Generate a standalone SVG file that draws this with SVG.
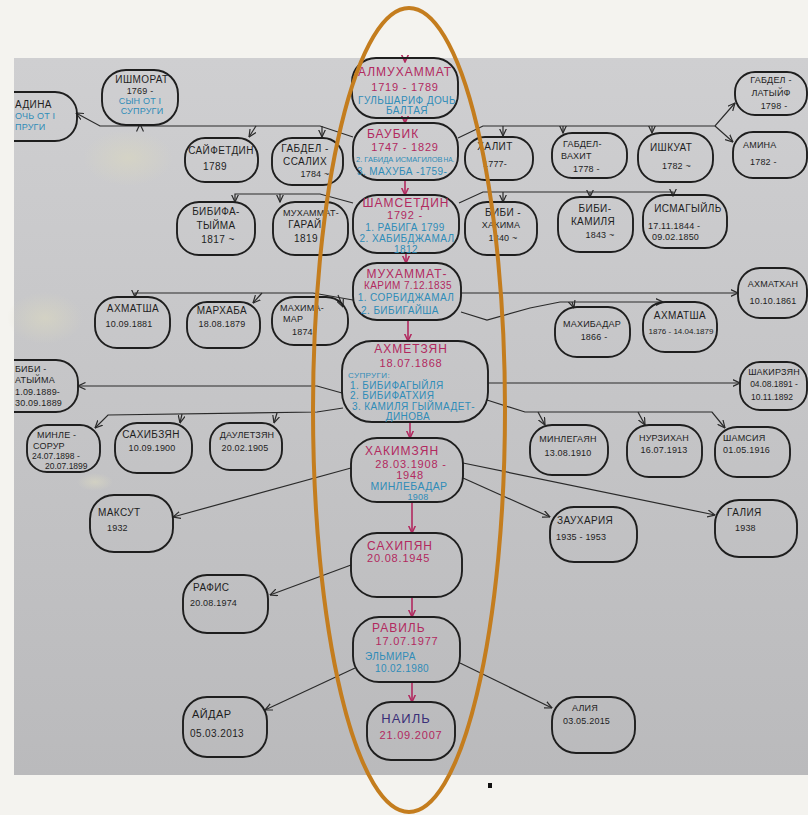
<svg xmlns="http://www.w3.org/2000/svg" width="808" height="815" viewBox="0 0 808 815">
<defs>
<style>
.n{fill:none;stroke:#1e1e1e;stroke-width:1.9}
text{font-family:"Liberation Sans","DejaVu Sans",sans-serif;font-size:10px;letter-spacing:0.4px}
.t{fill:#1e1e1e}
.m{fill:#b2295f}
.b{fill:#2f8cb8}
.h{font-size:12px;letter-spacing:1px}
.d{font-size:11px;letter-spacing:0.8px}
.s{font-size:9px;letter-spacing:0.2px}
.mid{text-anchor:middle}
.c{fill:none;stroke:#2a2a2a;stroke-width:1.2}
.r{fill:none;stroke:#b2295f;stroke-width:1.6}
</style>
<linearGradient id="paper" x1="0" y1="0" x2="0" y2="1">
<stop offset="0" stop-color="#cfcfd1"/>
<stop offset="1" stop-color="#bababc"/>
</linearGradient>
<radialGradient id="blot">
<stop offset="0" stop-color="#d8d6c2" stop-opacity="0.7"/>
<stop offset="1" stop-color="#d8d6c2" stop-opacity="0"/>
</radialGradient>
<clipPath id="photo"><rect x="14" y="58" width="794" height="717"/></clipPath>
<marker id="a" viewBox="0 0 8 8" refX="7.5" refY="4" markerWidth="8" markerHeight="8" markerUnits="userSpaceOnUse" orient="auto">
<path d="M0,0.5 L7.5,4 L0,7.5" fill="none" stroke="#2a2a2a" stroke-width="1.2"/>
</marker>
<marker id="ar" viewBox="0 0 8 8" refX="7.5" refY="4" markerWidth="8" markerHeight="8" markerUnits="userSpaceOnUse" orient="auto">
<path d="M0,0.5 L7.5,4 L0,7.5" fill="none" stroke="#b2295f" stroke-width="1.5"/>
</marker>
</defs>
<rect width="808" height="815" fill="#f4f3ef"/>
<rect x="14" y="58" width="794" height="717" fill="url(#paper)"/>
<ellipse cx="128" cy="158" rx="45" ry="28" fill="url(#blot)"/>
<ellipse cx="45" cy="318" rx="38" ry="26" fill="url(#blot)"/>
<ellipse cx="95" cy="482" rx="18" ry="9" fill="url(#blot)"/>

<g id="connectors">
<path class="r" d="M405,58 L405,62" marker-end="url(#ar)"/>
<path class="r" d="M405,118 L405,123" marker-end="url(#ar)"/>
<path class="r" d="M405,180 L405,195" marker-end="url(#ar)"/>
<path class="r" d="M406,253 L406,263" marker-end="url(#ar)"/>
<path class="r" d="M408,320 L408,341" marker-end="url(#ar)"/>
<path class="r" d="M410,422 L410,438" marker-end="url(#ar)"/>
<path class="r" d="M412,502 L412,533" marker-end="url(#ar)"/>
<path class="r" d="M412,597 L412,617" marker-end="url(#ar)"/>
<path class="r" d="M412,682 L412,702" marker-end="url(#ar)"/>

<path class="c" d="M353,137 L320,126 L100,126 L76,113" marker-end="url(#a)"/>
<path class="c" d="M140,126 L140,124" marker-end="url(#a)"/>
<path class="c" d="M256,126 L249,137" marker-end="url(#a)"/>
<path class="c" d="M322,126 L322,137" marker-end="url(#a)"/>
<path class="c" d="M458,138 L483,126 L715,126 L735,103" marker-end="url(#a)"/>
<path class="c" d="M715,126 L733,142" marker-end="url(#a)"/>
<path class="c" d="M503,126 L503,136" marker-end="url(#a)"/>
<path class="c" d="M563,126 L563,133" marker-end="url(#a)"/>
<path class="c" d="M652,126 L652,133" marker-end="url(#a)"/>

<path class="c" d="M353,203 L320,194 L235,194 L235,202" marker-end="url(#a)"/>
<path class="c" d="M280,194 L280,202" marker-end="url(#a)"/>
<path class="c" d="M459,203 L483,192 L673,192 L673,196" marker-end="url(#a)"/>
<path class="c" d="M503,192 L503,202" marker-end="url(#a)"/>
<path class="c" d="M590,192 L590,197" marker-end="url(#a)"/>

<path class="c" d="M353,300 L313,293 L135,293 L135,297" marker-end="url(#a)"/>
<path class="c" d="M262,293 L253,303" marker-end="url(#a)"/>
<path class="c" d="M338,295 L343,307" marker-end="url(#a)"/>
<path class="c" d="M461,293 L738,293" marker-end="url(#a)"/>
<path class="c" d="M461,312 L487,320 L530,308 L560,302 L663,302" marker-end="url(#a)"/>
<path class="c" d="M572,302 L574,308" marker-end="url(#a)"/>

<path class="c" d="M342,393 L317,386 L78,386" marker-end="url(#a)"/>
<path class="c" d="M343,408 L317,412 L108,415 L95,428" marker-end="url(#a)"/>
<path class="c" d="M182,414 L180,423" marker-end="url(#a)"/>
<path class="c" d="M277,413 L274,423" marker-end="url(#a)"/>
<path class="c" d="M488,383 L740,383" marker-end="url(#a)"/>
<path class="c" d="M487,400 L525,412 L712,412 L725,428" marker-end="url(#a)"/>
<path class="c" d="M538,412 L545,425" marker-end="url(#a)"/>
<path class="c" d="M638,412 L645,425" marker-end="url(#a)"/>

<path class="c" d="M351,468 L173,517" marker-end="url(#a)"/>
<path class="c" d="M463,463 L715,515" marker-end="url(#a)"/>
<path class="c" d="M463,478 L550,517" marker-end="url(#a)"/>
<path class="c" d="M351,565 L270,595" marker-end="url(#a)"/>
<path class="c" d="M355,668 L265,710" marker-end="url(#a)"/>
<path class="c" d="M460,663 L552,708" marker-end="url(#a)"/>
</g>

<g id="almukhammat"><rect class="n" x="352" y="58" width="106" height="60" rx="24"/>
<text class="m h mid" x="405" y="76">АЛМУХАММАТ</text>
<text class="m d mid" x="405" y="91">1719 - 1789</text>
<text class="b mid" x="407" y="104">ГУЛЬШАРИФ ДОЧЬ</text>
<text class="b mid" x="407" y="114">БАЛТАЯ</text></g>

<g id="baubik"><rect class="n" x="353" y="123" width="105" height="57" rx="24"/>
<text class="m h" x="367" y="138">БАУБИК</text>
<text class="m d mid" x="405" y="151">1747 - 1829</text>
<text class="b" x="356" y="162" style="font-size:7.5px;letter-spacing:0">2. ГАБИДА ИСМАГИЛОВ<tspan dx="1" style="font-size:6.5px">НА.</tspan></text>
<text class="b" x="357" y="175">3. МАХУБА -1759-</text></g>

<g id="shamsetdin"><rect class="n" x="353" y="195" width="106" height="58" rx="24"/>
<text class="m h mid" x="406" y="207">ШАМСЕТДИН</text>
<text class="m d mid" x="405" y="219">1792 -</text>
<text class="b mid" x="405" y="231">1. РАБИГА  1799</text>
<text class="b mid" x="407" y="242">2. ХАБИБДЖАМАЛ</text>
<text class="b mid" x="406" y="253">1812</text></g>

<g id="mukhammatkarim"><rect class="n" x="353" y="263" width="108" height="57" rx="24"/>
<text class="m h mid" x="407" y="278">МУХАММАТ-</text>
<text class="m mid" x="408" y="289">КАРИМ 7.12.1835</text>
<text class="b mid" x="406" y="301">1. СОРБИДЖАМАЛ</text>
<text class="b mid" x="400" y="314">2. БИБИГАЙША</text></g>

<g id="akhmetzyan"><rect class="n" x="342" y="341" width="146" height="81" rx="30"/>
<text class="m h mid" x="411" y="353">АХМЕТЗЯН</text>
<text class="m d mid" x="411" y="367">18.07.1868</text>
<text class="b" x="348" y="378" style="font-size:8px">СУПРУГИ:</text>
<text class="b" x="350" y="389">1. БИБИФАГЫЙЛЯ</text>
<text class="b" x="350" y="399">2. БИБИФАТХИЯ</text>
<text class="b" x="352" y="410">3. КАМИЛЯ ГЫЙМАДЕТ-</text>
<text class="b mid" x="408" y="420">ДИНОВА</text></g>

<g id="khakimzyan"><rect class="n" x="351" y="438" width="112" height="64" rx="26"/>
<text class="m h" x="365" y="455">ХАКИМЗЯН</text>
<text class="m d mid" x="411" y="468">28.03.1908 -</text>
<text class="m d mid" x="410" y="479">1948</text>
<text class="b mid" x="409" y="490" style="font-size:10.5px">МИНЛЕБАДАР</text>
<text class="b s mid" x="418" y="500">1908</text></g>

<g id="sakhipyan"><rect class="n" x="351" y="533" width="111" height="64" rx="26"/>
<text class="m h" x="367" y="550">САХИПЯН</text>
<text class="m d" x="367" y="562">20.08.1945</text></g>

<g id="ravil"><rect class="n" x="353" y="617" width="107" height="65" rx="26"/>
<text class="m h" x="372" y="632">РАВИЛЬ</text>
<text class="m d mid" x="407" y="645">17.07.1977</text>
<text class="b" x="365" y="660">ЭЛЬМИРА</text>
<text class="b" x="375" y="672">10.02.1980</text></g>

<g id="nail"><rect class="n" x="367" y="702" width="88" height="58" rx="24"/>
<text class="mid" x="406" y="723" style="font-size:13px;letter-spacing:1px;fill:#3a2f78">НАИЛЬ</text>
<text class="m d mid" x="411" y="739">21.09.2007</text></g>

<g id="adina" clip-path="url(#photo)"><rect class="n" x="-10" y="92" width="87" height="49" rx="22"/>
<text class="t" x="15" y="108">АДИНА</text>
<text class="b s" x="15" y="119">ОЧЬ ОТ I</text>
<text class="b s" x="15" y="130">ПРУГИ</text></g>

<g id="ishmorat"><rect class="n" x="102" y="70" width="76" height="55" rx="24"/>
<text class="t mid" x="142" y="83">ИШМОРАТ</text>
<text class="t s mid" x="140" y="94">1769 -</text>
<text class="b s mid" x="140" y="104">СЫН ОТ I</text>
<text class="b s mid" x="142" y="114">СУПРУГИ</text></g>

<g id="saifetdin"><rect class="n" x="185" y="138" width="73" height="44" rx="20"/>
<text class="t mid" x="221" y="154">САЙФЕТДИН</text>
<text class="t" x="203" y="170">1789</text></g>

<g id="gabdelsalikh"><rect class="n" x="272" y="138" width="71" height="47" rx="20"/>
<text class="t mid" x="305" y="152">ГАБДЕЛ -</text>
<text class="t mid" x="305" y="165">ССАЛИХ</text>
<text class="t s mid" x="315" y="177">1784 ~</text></g>

<g id="bibifatyima1"><rect class="n" x="177" y="202" width="78" height="53" rx="22"/>
<text class="t mid" x="216" y="215">БИБИФА-</text>
<text class="t mid" x="216" y="229">ТЫЙМА</text>
<text class="t mid" x="218" y="243">1817 ~</text></g>

<g id="mukhammatgarai"><rect class="n" x="273" y="202" width="75" height="53" rx="22"/>
<text class="t s mid" x="311" y="216">МУХАММАТ-</text>
<text class="t mid" x="305" y="228">ГАРАЙ</text>
<text class="t mid" x="306" y="242">1819</text></g>

<g id="khalit"><rect class="n" x="465" y="137" width="68" height="43" rx="20"/>
<text class="t mid" x="495" y="150">ХАЛИТ</text>
<text class="t s mid" x="495" y="167">1777-</text></g>

<g id="gabdelvakhit"><rect class="n" x="552" y="133" width="75" height="45" rx="20"/>
<text class="t s" x="563" y="147">ГАБДЕЛ-</text>
<text class="t s" x="561" y="159">ВАХИТ</text>
<text class="t s" x="573" y="172">1778 -</text></g>

<g id="ishkuat"><rect class="n" x="638" y="133" width="75" height="49" rx="22"/>
<text class="t" x="650" y="151">ИШКУАТ</text>
<text class="t s" x="662" y="169">1782 ~</text></g>

<g id="gabdellatyif"><rect class="n" x="735" y="72" width="72" height="43" rx="20"/>
<text class="t s mid" x="771" y="83">ГАБДЕЛ -</text>
<text class="t s mid" x="771" y="96">ЛАТЫЙФ</text>
<text class="t s mid" x="774" y="109">1798 -</text></g>

<g id="amina"><rect class="n" x="733" y="132" width="74" height="46" rx="20"/>
<text class="t s" x="743" y="148">АМИНА</text>
<text class="t s" x="750" y="165">1782 -</text></g>

<g id="bibikhakima"><rect class="n" x="465" y="202" width="72" height="53" rx="22"/>
<text class="t mid" x="503" y="216">БИБИ -</text>
<text class="t s mid" x="501" y="228">ХАКИМА</text>
<text class="t s mid" x="503" y="241">1840 ~</text></g>

<g id="bibikamilya"><rect class="n" x="558" y="197" width="75" height="55" rx="22"/>
<text class="t mid" x="595" y="212">БИБИ-</text>
<text class="t mid" x="593" y="225">КАМИЛЯ</text>
<text class="t s mid" x="600" y="238">1843 ~</text></g>

<g id="ismagyil"><rect class="n" x="643" y="195" width="84" height="53" rx="22"/>
<text class="t mid" x="688" y="212">ИСМАГЫЙЛЬ</text>
<text class="t s" x="648" y="229">17.11.1844 -</text>
<text class="t s" x="652" y="240">09.02.1850</text></g>

<g id="akhmatsha1"><rect class="n" x="95" y="297" width="75" height="51" rx="22"/>
<text class="t mid" x="133" y="312">АХМАТША</text>
<text class="t s mid" x="129" y="327">10.09.1881</text></g>

<g id="markhaba"><rect class="n" x="187" y="302" width="73" height="46" rx="20"/>
<text class="t mid" x="222" y="314">МАРХАБА</text>
<text class="t s mid" x="222" y="327">18.08.1879</text></g>

<g id="makhimar"><rect class="n" x="272" y="297" width="76" height="48" rx="22"/>
<text class="t s" x="280" y="311">МАХИМА-</text>
<text class="t s" x="283" y="322">МАР</text>
<text class="t s" x="292" y="335">1874</text></g>

<g id="bibifatyima2" clip-path="url(#photo)"><rect class="n" x="-10" y="360" width="88" height="52" rx="22"/>
<text class="t s" x="15" y="372">БИБИ -</text>
<text class="t s" x="15" y="383">АТЫЙМА</text>
<text class="t s" x="15" y="395">1.09.1889-</text>
<text class="t s" x="15" y="406">30.09.1889</text></g>

<g id="minlesorur"><rect class="n" x="27" y="425" width="73" height="47" rx="20"/>
<text class="t s" x="37" y="438">МИНЛЕ -</text>
<text class="t s" x="33" y="449">СОРУР</text>
<text class="t" x="32" y="459" style="font-size:8.5px;letter-spacing:0">24.07.1898 -</text>
<text class="t" x="45" y="469" style="font-size:8.5px;letter-spacing:0">20.07.1899</text></g>

<g id="sakhibzyan"><rect class="n" x="115" y="423" width="77" height="50" rx="22"/>
<text class="t mid" x="151" y="438">САХИБЗЯН</text>
<text class="t s mid" x="152" y="451">10.09.1900</text></g>

<g id="dauletzyan"><rect class="n" x="210" y="423" width="72" height="47" rx="20"/>
<text class="t s mid" x="247" y="438">ДАУЛЕТЗЯН</text>
<text class="t s mid" x="245" y="451">20.02.1905</text></g>

<g id="maksut"><rect class="n" x="90" y="495" width="83" height="57" rx="24"/>
<text class="t" x="98" y="516">МАКСУТ</text>
<text class="t s" x="107" y="531">1932</text></g>

<g id="rafis"><rect class="n" x="183" y="575" width="85" height="58" rx="24"/>
<text class="t" x="193" y="591">РАФИС</text>
<text class="t s" x="190" y="606">20.08.1974</text></g>

<g id="aidar"><rect class="n" x="183" y="697" width="84" height="60" rx="24"/>
<text class="t" x="192" y="718" style="font-size:11px">АЙДАР</text>
<text class="t" x="190" y="737">05.03.2013</text></g>

<g id="akhmatkhan"><rect class="n" x="738" y="268" width="69" height="50" rx="22"/>
<text class="t s mid" x="773" y="287">АХМАТХАН</text>
<text class="t s mid" x="773" y="304">10.10.1861</text></g>

<g id="makhibadar"><rect class="n" x="555" y="307" width="75" height="50" rx="22"/>
<text class="t s mid" x="592" y="327">МАХИБАДАР</text>
<text class="t s mid" x="594" y="340">1866 -</text></g>

<g id="akhmatsha2"><rect class="n" x="643" y="302" width="74" height="50" rx="22"/>
<text class="t mid" x="680" y="319">АХМАТША</text>
<text class="t mid" x="681" y="334" style="font-size:8px;letter-spacing:0">1876 - 14.04.1879</text></g>

<g id="shakirzyan"><rect class="n" x="740" y="362" width="67" height="48" rx="20"/>
<text class="t s mid" x="774" y="375">ШАКИРЗЯН</text>
<text class="t mid" x="774" y="387" style="font-size:8.5px;letter-spacing:0">04.08.1891 -</text>
<text class="t mid" x="772" y="400" style="font-size:8.5px;letter-spacing:0">10.11.1892</text></g>

<g id="minlegayan"><rect class="n" x="530" y="425" width="78" height="50" rx="22"/>
<text class="t s mid" x="568" y="442">МИНЛЕГАЯН</text>
<text class="t s mid" x="568" y="456">13.08.1910</text></g>

<g id="nurzikhan"><rect class="n" x="627" y="425" width="75" height="52" rx="22"/>
<text class="t s mid" x="664" y="441">НУРЗИХАН</text>
<text class="t s mid" x="664" y="453">16.07.1913</text></g>

<g id="shamsiya"><rect class="n" x="715" y="427" width="75" height="50" rx="22"/>
<text class="t s" x="723" y="441">ШАМСИЯ</text>
<text class="t s" x="723" y="453">01.05.1916</text></g>

<g id="zaukhariya"><rect class="n" x="550" y="507" width="87" height="55" rx="24"/>
<text class="t" x="557" y="524">ЗАУХАРИЯ</text>
<text class="t s" x="556" y="540">1935 - 1953</text></g>

<g id="galiya"><rect class="n" x="715" y="500" width="82" height="57" rx="24"/>
<text class="t" x="727" y="516">ГАЛИЯ</text>
<text class="t s" x="735" y="531">1938</text></g>

<g id="aliya"><rect class="n" x="552" y="697" width="83" height="56" rx="24"/>
<text class="t s" x="572" y="711">АЛИЯ</text>
<text class="t s" x="563" y="724">03.05.2015</text></g>

<ellipse cx="409" cy="410" rx="96" ry="402" fill="none" stroke="#c47d1e" stroke-width="4"/>
<rect x="488" y="783" width="4" height="5" fill="#111"/>
</svg>
